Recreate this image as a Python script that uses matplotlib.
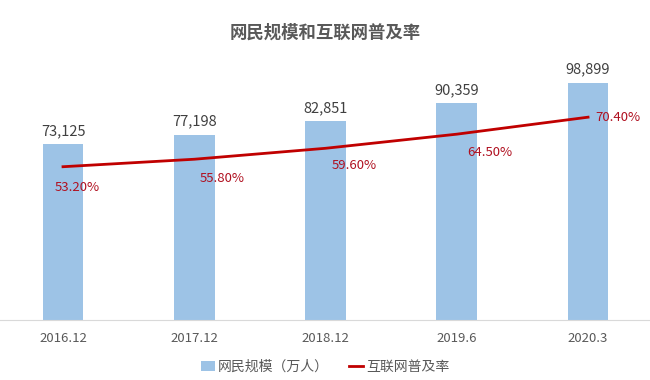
import matplotlib.pyplot as plt

plt.rcParams['font.family'] = ['Noto Sans CJK SC', 'DejaVu Sans']

categories = ["2016.12", "2017.12", "2018.12", "2019.6", "2020.3"]
users = [73125, 77198, 82851, 90359, 98899]
rate = [53.2, 55.8, 59.6, 64.5, 70.4]

BAR_COLOR = "#9DC3E6"
LINE_COLOR = "#C00000"
TEXT_COLOR = "#595959"

fig = plt.figure(figsize=(6.5, 3.8), dpi=100)
ax = fig.add_axes([0.0, 0.158, 1.0, 0.758])
x = list(range(len(categories)))

ax.bar(x, users, width=0.31, color=BAR_COLOR, label="网民规模（万人）", zorder=2)
for xi, v in zip(x, users):
    ax.annotate(f"{v:,}", (xi, v), xytext=(0, 6), textcoords="offset pixels",
                ha="center", va="bottom", fontsize=10.5, color="#404040")

ax.set_xlim(-0.48, 4.472)
ax.set_ylim(0, 120000)
ax.set_xticks(x)
ax.set_xticklabels(categories, fontsize=9.5, color=TEXT_COLOR)
ax.tick_params(axis="x", length=0, pad=9)
ax.set_yticks([])
for side in ["top", "right", "left"]:
    ax.spines[side].set_visible(False)
ax.spines["bottom"].set_color("#D9D9D9")

ax2 = ax.twinx()
ax2.plot(x, rate, color=LINE_COLOR, linewidth=2, label="互联网普及率", zorder=3)
ax2.set_ylim(0, 100)
ax2.set_yticks([])
for side in ["top", "right", "left", "bottom"]:
    ax2.spines[side].set_visible(False)

offsets = [(14, -21), (28, -19), (29, -17), (33, -18), (30, 0)]
for xi, r, off in zip(x, rate, offsets):
    ax2.annotate(f"{r:.2f}%", (xi, r), xytext=off, textcoords="offset pixels",
                 ha="center", va="center", fontsize=9.5, color="#B01020")

fig.text(0.5, 0.913, "网民规模和互联网普及率", ha="center", va="center",
         fontsize=12.5, fontweight="bold", color=TEXT_COLOR)

h1, l1 = ax.get_legend_handles_labels()
h2, l2 = ax2.get_legend_handles_labels()
fig.legend(h1 + h2, l1 + l2, loc="center", bbox_to_anchor=(0.5, 0.035), ncol=2,
           frameon=False, fontsize=10, labelcolor=TEXT_COLOR, handlelength=1.0,
           handletextpad=0.2, columnspacing=1.5)

fig.savefig("out.png", dpi=100)
